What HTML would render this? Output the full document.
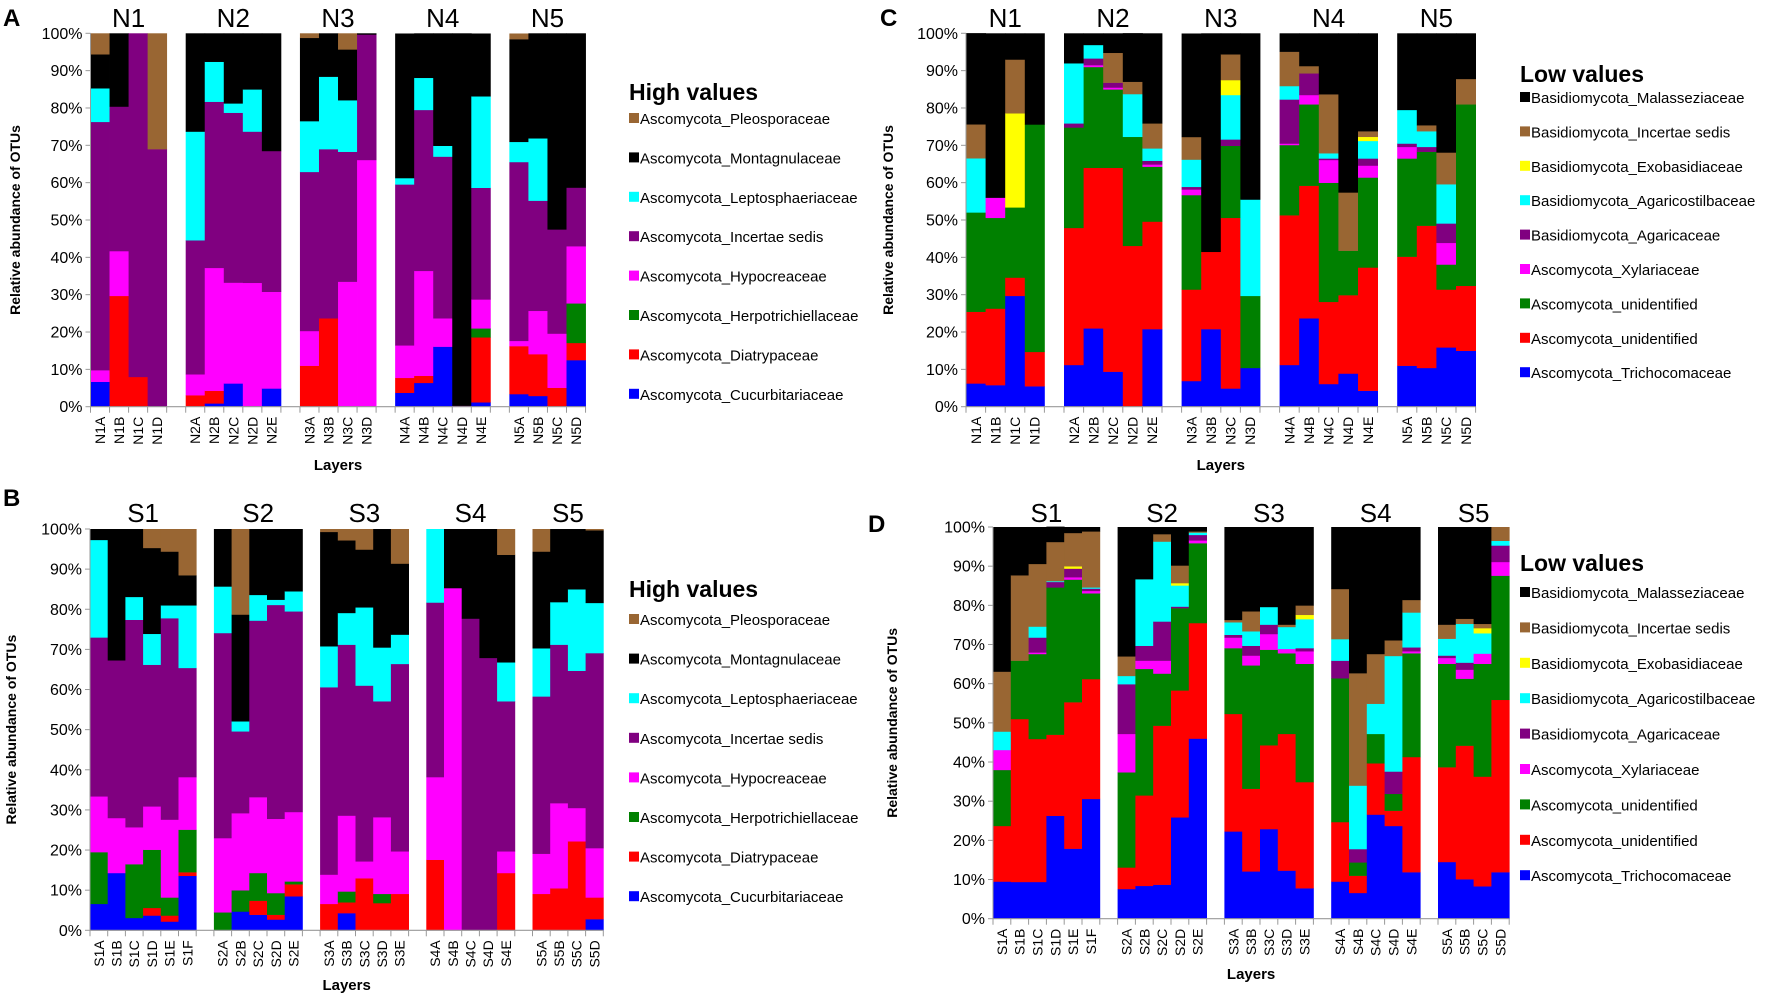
<!DOCTYPE html>
<html><head><meta charset="utf-8">
<style>
html,body{margin:0;padding:0;background:#fff;}
svg{display:block;font-family:"Liberation Sans",sans-serif;}
</style></head>
<body>
<svg id="fig" width="1772" height="996" viewBox="0 0 1772 996" xmlns="http://www.w3.org/2000/svg"></svg>
<script>
// ---------- Panel A (High values, N) ----------
const aCategories = ['N1A','N1B','N1C','N1D','N2A','N2B','N2C','N2D','N2E','N3A','N3B','N3C','N3D','N4A','N4B','N4C','N4D','N4E','N5A','N5B','N5C','N5D'];
const aCucurbitariaceae = [6.7,0,0,0, 0,0.9,6.25,0,4.9, 0,0,0,0, 3.75,6.4,16.1,0,1.2, 3.4,2.9,0,12.5];
const aDiatrypaceae = [0,29.7,8,0, 3.1,3.4,0,0,0, 11,23.7,0,0, 4,1.9,0,0,17.4, 12.85,11.2,5.1,4.6];
const aHerpotrichiellaceae = [0,0,0,0, 0,0,0,0,0, 0,0,0,0, 0,0,0,0,2.4, 0,0,0,10.6];
const aHypocreaceae = [3.1,12,0,0, 5.6,32.9,27,33.2,25.9, 9.3,0,33.5,66.1, 8.7,28.1,7.6,0,7.75, 1.4,11.6,14.5,15.3];
const aIncertaeSedis = [66.5,38.7,92,69, 35.9,44.5,45.5,40.5,37.7, 42.6,45.3,34.8,33.6, 43.1,43.1,43.3,0.3,29.9, 47.9,29.5,27.9,15.7];
const aLeptosphaeriaceae = [9,0,0,0, 29.1,10.7,2.5,11.3,0, 13.6,19.4,13.8,0, 1.7,8.6,2.9,0,24.5, 5.4,16.7,0,0];
const aMontagnulaceae = [9.1,19.6,0,0, 26.3,7.6,18.75,15,31.5, 22.3,11.6,13.6,0.3, 38.7,11.9,30.1,99.7,16.8, 27.5,28.1,52.5,41.3];
const aPleosporaceae = [5.6,0,0,31, 0,0,0,0,0, 1.2,0,4.3,0, 0,0,0,0,0, 1.5,0,0,0];

// ---------- Panel C (Low values, N) ----------
const cCategories = aCategories.slice();
const cTrichocomaceae = [6.25,5.8,29.7,5.5, 11.2,21,9.4,0,20.8, 6.9,20.8,4.9,10.4, 11.2,23.7,6.1,8.9,4.3, 11,10.4,15.9,15];
const cAscoUnidentifiedRed = [19.2,20.5,4.9,9.2, 36.7,43,54.6,43.1,28.8, 24.5,20.7,45.7,0, 40.1,35.5,22,21,33, 29.2,38.1,15.5,17.4];
const cAscoUnidentifiedGreen = [26.6,24.3,18.8,60.9, 26.9,27,21,29.2,14.7, 25.3,0,19.3,19.3, 18.8,21.8,31.9,11.9,24.1, 26.3,19.8,6.7,48.6];
const cXylariaceae = [0,5.4,0,0, 0,0.5,0.5,0,0.6, 1.5,0,0,0, 0.4,2.5,6.1,0,3.2, 3.1,0,5.8,0];
const cAgaricaceae = [0,0,0,0, 1.1,1.8,1.3,0,1, 0.7,0,1.7,0, 11.8,5.8,0.4,0,1.9, 0.9,1.3,5.2,0];
const cAgaricostilbaceae = [14.5,0,0,0, 16.1,3.6,0,11.45,3.3, 7.3,0,11.9,25.8, 3.6,0,1.4,0,4.7, 9,4.2,10.5,0];
const cExobasidiaceae = [0,0,25.2,0, 0,0,0,0,0, 0,0,4,0, 0,0,0,0,1.1, 0,0,0,0];
const cIncertaeSedis = [9.1,0,14.4,0, 0,0,8,3.3,6.7, 6.05,0,6.9,0, 9.2,1.95,15.8,15.6,1.5, 0,1.6,8.5,6.8];
const cMalasseziaceae = [24.4,44,7,24.4, 8,3.1,5.2,13,24.1, 27.7,58.5,5.6,44.5, 4.9,8.75,16.3,42.6,26.2, 20.5,24.6,31.9,12.2];

// ---------- Panel B (High values, S) ----------
const bCategories = ['S1A','S1B','S1C','S1D','S1E','S1F','S2A','S2B','S2C','S2D','S2E','S3A','S3B','S3C','S3D','S3E','S4A','S4B','S4C','S4D','S4E','S5A','S5B','S5C','S5D'];
const bCucurbitariaceae = [6.6,14.3,3.1,3.7,2.2,13.6, 0,4.7,3.9,2.7,8.5, 0,4.3,0,0,0, 0,0,0,0,0, 0,0,0,2.8];
const bDiatrypaceae = [0,0,0,1.9,1.5,0.9, 0,0,3.5,1.2,3, 6.6,2.7,13,6.8,9.1, 17.6,0,0,0,14.3, 9.1,10.5,22.2,5.4];
const bHerpotrichiellaceae = [12.9,0,13.4,14.5,4.5,10.6, 4.5,5.3,6.9,5.4,0.7, 0,2.7,0,2.3,0, 0,0,0,0,0, 0,0,0,0];
const bHypocreaceae = [13.9,13.7,9.2,10.8,19.4,13.1, 18.5,19.2,18.9,18.5,17.3, 7.3,18.9,4.2,19.1,10.6, 20.6,85.3,0,0,5.4, 10,21.2,8.3,12.3];
const bIncertaeSedis = [39.6,39.3,51.7,35.3,50.2,27.2, 51.1,20.4,44,53.3,50, 46.7,42.6,43.8,28.9,46.7, 43.5,0,77.7,67.9,37.4, 39.2,39.5,34.2,48.6];
const bLeptosphaeriaceae = [24.3,0,5.7,7.7,3.2,15.6, 11.6,2.5,6.4,1.3,5, 10.2,7.9,19.5,13.4,7.3, 18.3,0,0,0,9.7, 12,10.6,20.3,12.5];
const bMontagnulaceae = [2.7,32.7,16.9,21.4,13.4,7.5, 14.3,26.6,16.4,17.6,15.5, 28.5,18.1,14.4,29.5,17.7, 0,14.7,22.3,32.1,26.8, 24.1,18.2,15,18.1];
const bPleosporaceae = [0,0,0,4.7,5.6,11.5, 0,21.3,0,0,0, 0.7,2.8,5.1,0,8.6, 0,0,0,0,6.4, 5.6,0,0,0.3];

// ---------- Panel D (Low values, S) ----------
const dCategories = bCategories.slice();
const dTrichocomaceae = [9.5,9.4,9.4,26.3,17.9,30.6, 7.6,8.4,8.7,25.9,46, 22.3,12.1,22.9,12.3,7.8, 9.5,6.6,26.6,23.7,11.9, 14.5,10.1,8.3,11.9];
const dAscoUnidentifiedRed = [14.2,41.6,36.5,20.7,37.4,30.6, 5.5,23.1,40.6,32.4,29.5, 30,21.1,21.4,34.9,27.1, 15.2,4.4,13.1,3.9,29.4, 24.2,34.1,28,44];
const dAscoUnidentifiedGreen = [14.3,14.9,21.7,37.6,31.3,21.9, 24.3,32.3,13.3,21,20.4, 16.8,31.5,24.4,20.6,30.2, 36.7,3.4,7.5,4.3,26.5, 26.4,17.1,28.8,31.7];
const dXylariaceae = [5.1,0,0.4,0,0.6,0.6, 9.8,2.1,3.3,0,0.7, 2.7,2.5,4,1.1,3.2, 0,0,0,0,0.5, 1.5,2.3,2.6,3.5];
const dAgaricaceae = [0,0,3.8,1.4,2.2,0.6, 12.7,3.8,10,0.4,1.4, 0.7,2.5,2.4,0,0.8, 4.5,3.4,0,5.7,1, 0.6,1.8,0,4.2];
const dAgaricostilbaceae = [4.7,0,2.8,0.2,0,0.3, 2.1,17,20.4,5.4,0.6, 3.2,3.7,4.5,5.6,7.4, 5.5,16.2,7.7,29.5,8.9, 4.3,9.9,5.2,1.2];
const dExobasidiaceae = [0,0,0,0,0.6,0, 0,0,0,0.6,0, 0,0,0,0,1.1, 0,0,0,0,0, 0,0,1.3,0];
const dIncertaeSedis = [15.3,21.8,16,10,8.5,14.3, 5,0,1.9,4.5,0.3, 0.6,5.1,0,0.6,2.4, 12.8,28.7,12.7,4,3.2, 3.6,1.3,1.1,3.5];
const dMalasseziaceae = [36.9,12.3,9.4,3.9,1.5,1.1, 33,13.3,1.8,9.8,1.1, 23.7,21.5,20.4,24.9,20, 15.8,37.3,32.4,28.9,18.6, 24.9,23.4,24.7,0];

const yTickLabels = ['0%','10%','20%','30%','40%','50%','60%','70%','80%','90%','100%'];

const C = {blue:'#0000FF',red:'#FF0000',green:'#008000',mag:'#FF00FF',pur:'#800080',cyan:'#00FFFF',black:'#000000',brown:'#996633',yellow:'#FFFF00'};
const NS = 'http://www.w3.org/2000/svg';
const svg = document.getElementById('fig');

function mk(tag, attrs, parent, text){
  const e = document.createElementNS(NS, tag);
  for (const k in attrs) e.setAttribute(k, attrs[k]);
  if (text !== undefined) e.textContent = text;
  (parent || svg).appendChild(e);
  return e;
}

function drawPanel(p){
  const g = mk('g', {});
  
  
  // slot layout: categories + one gap slot between groups
  const slotIdx = [];
  let s = 0, prev = null;
  p.cats.forEach(function(c){
    const grp = c.slice(0,2);
    if (prev !== null && grp !== prev) s++;
    slotIdx.push(s); s++; prev = grp;
  });
  const nSlots = s;
  const xOf = function(i){ return p.x0 + slotIdx[i]*p.slot; };
  const yOf = function(v){ return p.bottom - (v/100)*(p.bottom - p.top); };

  // bars
  p.cats.forEach(function(c, i){
    let cum = 0;
    p.series.forEach(function(se){
      const v = se.values[i];
      if (!v) return;
      const y1 = yOf(cum + v), y0 = yOf(cum);
      const r = mk('rect', {x: xOf(i), y: y1, width: p.slot + 0.4, height: y0 - y1 + 0.3, fill: se.color}, g);
      
      
      cum += v;
    });
    // x label
    const lx = xOf(i) + p.slot/2 + 5;
    const ly = p.bottom + 10;
    const t = mk('text', {x: lx, y: ly, transform: 'rotate(-90 ' + lx + ' ' + ly + ')', 'text-anchor': 'end', 'font-size': 14, fill: '#000'}, g, c);
    
    
  });

  // axes
  const xEnd = p.x0 + nSlots*p.slot;
  const ax = mk('line', {x1: p.x0, y1: p.top, x2: p.x0, y2: p.bottom, stroke: '#999', 'stroke-width': 1}, g);
  
  
  const bx = mk('line', {x1: p.x0, y1: p.bottom, x2: xEnd, y2: p.bottom, stroke: '#999', 'stroke-width': 1.2}, g);
  
  
  for (let k = 0; k <= nSlots; k++){
    mk('line', {x1: p.x0 + k*p.slot, y1: p.bottom, x2: p.x0 + k*p.slot, y2: p.bottom + 6, stroke: '#999'}, g);
  }
  yTickLabels.forEach(function(lab, k){
    const y = yOf(k*10);
    mk('line', {x1: p.x0 - 5, y1: y, x2: p.x0, y2: y, stroke: '#999'}, g);
    const t = mk('text', {x: p.x0 - 8, y: y + 5.5, 'text-anchor': 'end', 'font-size': 16, fill: '#000', 'font-family': '"Liberation Sans Narrow","Liberation Sans",sans-serif'}, g, lab);
    
    
  });

  // group titles
  const groups = [];
  p.cats.forEach(function(c, i){
    const grp = c.slice(0,2);
    let gg = groups.find(function(q){ return q.name === grp; });
    if (!gg){ gg = {name: grp, first: i, last: i}; groups.push(gg); }
    gg.last = i;
  });
  groups.forEach(function(gg){
    const cx = (xOf(gg.first) + xOf(gg.last) + p.slot)/2;
    const t = mk('text', {x: cx, y: p.titleY, 'text-anchor': 'middle', 'font-size': 26, fill: '#000', 'font-family': '"Liberation Sans Narrow","Liberation Sans",sans-serif'}, g, gg.name);
    
    
  });

  // axis titles
  const yt = mk('text', {x: p.yTitleX, y: (p.top + p.bottom)/2, transform: 'rotate(-90 ' + p.yTitleX + ' ' + (p.top + p.bottom)/2 + ')', 'text-anchor': 'middle', 'font-size': 14, 'font-weight': 'bold', fill: '#000'}, g, 'Relative abundance of OTUs');
  
  
  const xt = mk('text', {x: (p.x0 + xEnd)/2, y: p.layersY, 'text-anchor': 'middle', 'font-size': 15, 'font-weight': 'bold', fill: '#000', 'font-family': '"Liberation Sans Narrow","Liberation Sans",sans-serif'}, g, 'Layers');
  
  

  // panel letter
  const pl = mk('text', {x: p.letterX, y: p.letterY, 'font-size': 24, 'font-weight': 'bold', fill: '#000'}, g, p.letter);
  
  

  // legend
  const lg = mk('g', {}, g);
  
  
  const lt = mk('text', {x: p.legX, y: p.legTitleY, 'font-size': 23, 'font-weight': 'bold', fill: '#000', 'font-family': '"Liberation Sans Narrow","Liberation Sans",sans-serif'}, lg, p.legTitle);
  
  
  const rev = p.series.slice().reverse();
  rev.forEach(function(se, k){
    const y = p.legY0 + k*p.legDy;
    const sq = mk('rect', {x: p.legX, y: y - 6, width: 10, height: 10, fill: se.color}, lg);
    
    
    const tx = mk('text', {x: p.legX + 11, y: y + 5, 'font-size': 15, fill: '#000'}, lg, se.label);
    
    
  });
}

const highSeries = function(pre, v){ return [
  {key:'cucurbitariaceae', label:'Ascomycota_Cucurbitariaceae', color:C.blue, values:v[0]},
  {key:'diatrypaceae', label:'Ascomycota_Diatrypaceae', color:C.red, values:v[1]},
  {key:'herpotrichiellaceae', label:'Ascomycota_Herpotrichiellaceae', color:C.green, values:v[2]},
  {key:'hypocreaceae', label:'Ascomycota_Hypocreaceae', color:C.mag, values:v[3]},
  {key:'incertae-sedis', label:'Ascomycota_Incertae sedis', color:C.pur, values:v[4]},
  {key:'leptosphaeriaceae', label:'Ascomycota_Leptosphaeriaceae', color:C.cyan, values:v[5]},
  {key:'montagnulaceae', label:'Ascomycota_Montagnulaceae', color:C.black, values:v[6]},
  {key:'pleosporaceae', label:'Ascomycota_Pleosporaceae', color:C.brown, values:v[7]}
];};
const lowSeries = function(v){ return [
  {key:'trichocomaceae', label:'Ascomycota_Trichocomaceae', color:C.blue, values:v[0]},
  {key:'asco-unidentified-red', label:'Ascomycota_unidentified', color:C.red, values:v[1]},
  {key:'asco-unidentified-green', label:'Ascomycota_unidentified', color:C.green, values:v[2]},
  {key:'xylariaceae', label:'Ascomycota_Xylariaceae', color:C.mag, values:v[3]},
  {key:'agaricaceae', label:'Basidiomycota_Agaricaceae', color:C.pur, values:v[4]},
  {key:'agaricostilbaceae', label:'Basidiomycota_Agaricostilbaceae', color:C.cyan, values:v[5]},
  {key:'exobasidiaceae', label:'Basidiomycota_Exobasidiaceae', color:C.yellow, values:v[6]},
  {key:'incertae-sedis', label:'Basidiomycota_Incertae sedis', color:C.brown, values:v[7]},
  {key:'malasseziaceae', label:'Basidiomycota_Malasseziaceae', color:C.black, values:v[8]}
];};

drawPanel({id:'a', letter:'A', letterX:3, letterY:26, cats:aCategories, x0:90.5, slot:19.04, top:33.3, bottom:406.7, titleY:27, yTitleX:20, layersY:470,
  series: highSeries('a',[aCucurbitariaceae,aDiatrypaceae,aHerpotrichiellaceae,aHypocreaceae,aIncertaeSedis,aLeptosphaeriaceae,aMontagnulaceae,aPleosporaceae]),
  legX:629, legTitle:'High values', legTitleY:100, legY0:119, legDy:39.4});
drawPanel({id:'c', letter:'C', letterX:880, letterY:26, cats:cCategories, x0:966, slot:19.6, top:33.3, bottom:406.7, titleY:27, yTitleX:893, layersY:470,
  series: lowSeries([cTrichocomaceae,cAscoUnidentifiedRed,cAscoUnidentifiedGreen,cXylariaceae,cAgaricaceae,cAgaricostilbaceae,cExobasidiaceae,cIncertaeSedis,cMalasseziaceae]),
  legX:1520, legTitle:'Low values', legTitleY:82, legY0:98, legDy:34.4});
drawPanel({id:'b', letter:'B', letterX:3, letterY:506, cats:bCategories, x0:90, slot:17.7, top:529, bottom:930.3, titleY:522, yTitleX:16, layersY:990,
  series: highSeries('b',[bCucurbitariaceae,bDiatrypaceae,bHerpotrichiellaceae,bHypocreaceae,bIncertaeSedis,bLeptosphaeriaceae,bMontagnulaceae,bPleosporaceae]),
  legX:629, legTitle:'High values', legTitleY:597, legY0:620, legDy:39.6});
drawPanel({id:'d', letter:'D', letterX:868, letterY:532, cats:dCategories, x0:993, slot:17.8, top:527, bottom:918.7, titleY:522, yTitleX:897, layersY:979,
  series: lowSeries([dTrichocomaceae,dAscoUnidentifiedRed,dAscoUnidentifiedGreen,dXylariaceae,dAgaricaceae,dAgaricostilbaceae,dExobasidiaceae,dIncertaeSedis,dMalasseziaceae]),
  legX:1520, legTitle:'Low values', legTitleY:571, legY0:593, legDy:35.4});
</script>
</body></html>
